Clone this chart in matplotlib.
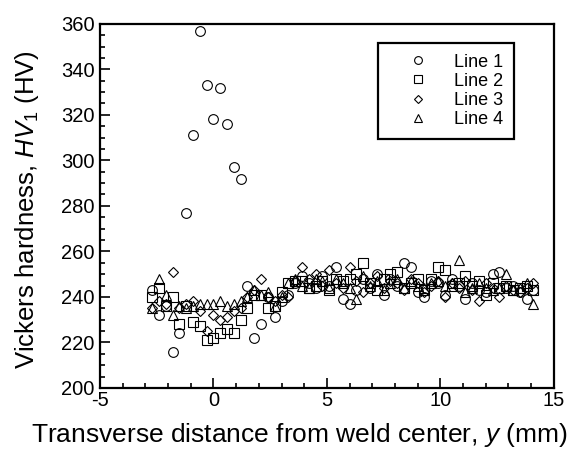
import matplotlib
matplotlib.use("Agg")
import matplotlib.pyplot as plt
from matplotlib.ticker import MultipleLocator

plt.rcParams['font.family'] = ['Liberation Sans', 'DejaVu Sans']
plt.rcParams['mathtext.fontset'] = 'custom'
plt.rcParams['mathtext.rm'] = 'Liberation Sans'
plt.rcParams['mathtext.it'] = 'Liberation Sans:italic'
plt.rcParams['axes.unicode_minus'] = False

# measurement positions (mm)
pos = [-2.7, -2.4, -2.1, -1.8, -1.5, -1.2, -0.9, -0.6, -0.3, 0.0,
       0.3, 0.6, 0.9, 1.2, 1.5, 1.8, 2.1, 2.4, 2.7, 3.0,
       3.3, 3.6, 3.9, 4.2, 4.5, 4.8, 5.1, 5.4, 5.7, 6.0,
       6.3, 6.6, 6.9, 7.2, 7.5, 7.8, 8.1, 8.4, 8.7, 9.0,
       9.3, 9.6, 9.9, 10.2, 10.5, 10.8, 11.1, 11.4, 11.7, 12.0,
       12.3, 12.6, 12.9, 13.2, 13.5, 13.8, 14.1]

line1 = [243, 232, 236, 216, 224, 277, 311, 357, 333, 318,
         332, 316, 297, 292, 245, 222, 228, 240, 231, 238,
         241, 246, 249, 246, 244, 249, 245, 253, 239, 237,
         243, 248, 244, 250, 241, 248, 245, 255, 253, 242,
         240, 247, 246, 241, 248, 245, 239, 246, 243, 242,
         250, 251, 244, 245, 242, 239, 243]
line2 = [240, 244, 236, 240, 228, 236, 229, 227, 221, 222,
         224, 226, 224, 230, 235, 241, 241, 235, 236, 242,
         246, 247, 247, 244, 245, 247, 243, 248, 247, 248,
         250, 255, 246, 243, 248, 250, 251, 244, 246, 248,
         243, 248, 253, 252, 245, 246, 249, 245, 247, 241,
         246, 244, 245, 243, 244, 245, 243]
line3 = [235, 238, 237, 251, 235, 237, 238, 234, 225, 232,
         230, 231, 234, 235, 240, 243, 248, 240, 238, 241,
         240, 247, 253, 248, 250, 245, 252, 246, 244, 253,
         247, 242, 246, 249, 244, 247, 246, 243, 248, 246,
         242, 245, 247, 240, 246, 244, 247, 243, 238, 246,
         244, 240, 245, 243, 242, 244, 246]
line4 = [235, 248, 241, 232, 236, 235, 236, 237, 237, 237,
         238, 236, 237, 238, 240, 243, 241, 242, 236, 240,
         246, 248, 245, 244, 248, 247, 244, 248, 246, 244,
         239, 249, 245, 247, 243, 246, 248, 244, 247, 245,
         244, 246, 247, 245, 246, 256, 242, 244, 246, 244,
         243, 244, 250, 243, 244, 246, 237]

series = [(line1, 'o', 'Line 1'), (line2, 's', 'Line 2'),
          (line3, 'D', 'Line 3'), (line4, '^', 'Line 4')]
sizes = {'o': 7.0, 's': 7.0, 'D': 5.3, '^': 7.0}

fig = plt.figure(figsize=(5.71, 4.49), dpi=100)
ax = fig.add_axes([0.175, 0.136, 0.795, 0.811])

for vals, mk, lab in series:
    ax.plot(pos, vals, linestyle='none', marker=mk, markersize=sizes[mk],
            markerfacecolor='none', markeredgecolor='black',
            markeredgewidth=0.8, label=lab)

ax.set_xlim(-5, 15)
ax.set_ylim(200, 360)
ax.xaxis.set_major_locator(MultipleLocator(5))
ax.xaxis.set_minor_locator(MultipleLocator(1))
ax.yaxis.set_major_locator(MultipleLocator(20))
ax.yaxis.set_minor_locator(MultipleLocator(5))
ax.tick_params(which='both', direction='in', top=False, right=False,
               labelsize=14.5, width=1.2)
ax.tick_params(axis='x', pad=2)
ax.tick_params(axis='y', pad=4)
ax.tick_params(which='major', length=7)
ax.tick_params(which='minor', length=3.5)
for sp in ax.spines.values():
    sp.set_linewidth(1.6)

ax.set_xlabel(r'Transverse distance from weld center, $\mathit{y}$ (mm)',
              fontsize=19)
ax.xaxis.set_label_coords(0.44, -0.09)
ax.set_ylabel(r'Vickers hardness, $\mathit{HV}_\mathrm{1}$ (HV)',
              fontsize=18.5)
ax.yaxis.set_label_coords(-0.13, 0.49)

leg = ax.legend(loc='upper right', bbox_to_anchor=(0.912, 0.948),
                borderaxespad=0, fontsize=13, numpoints=1, markerscale=0.8,
                fancybox=False, edgecolor='black', framealpha=1,
                borderpad=0.6, handlelength=3.2, handletextpad=0.4,
                labelspacing=0.12)
leg.get_frame().set_linewidth(1.6)

fig.savefig('out.png', dpi=100)
